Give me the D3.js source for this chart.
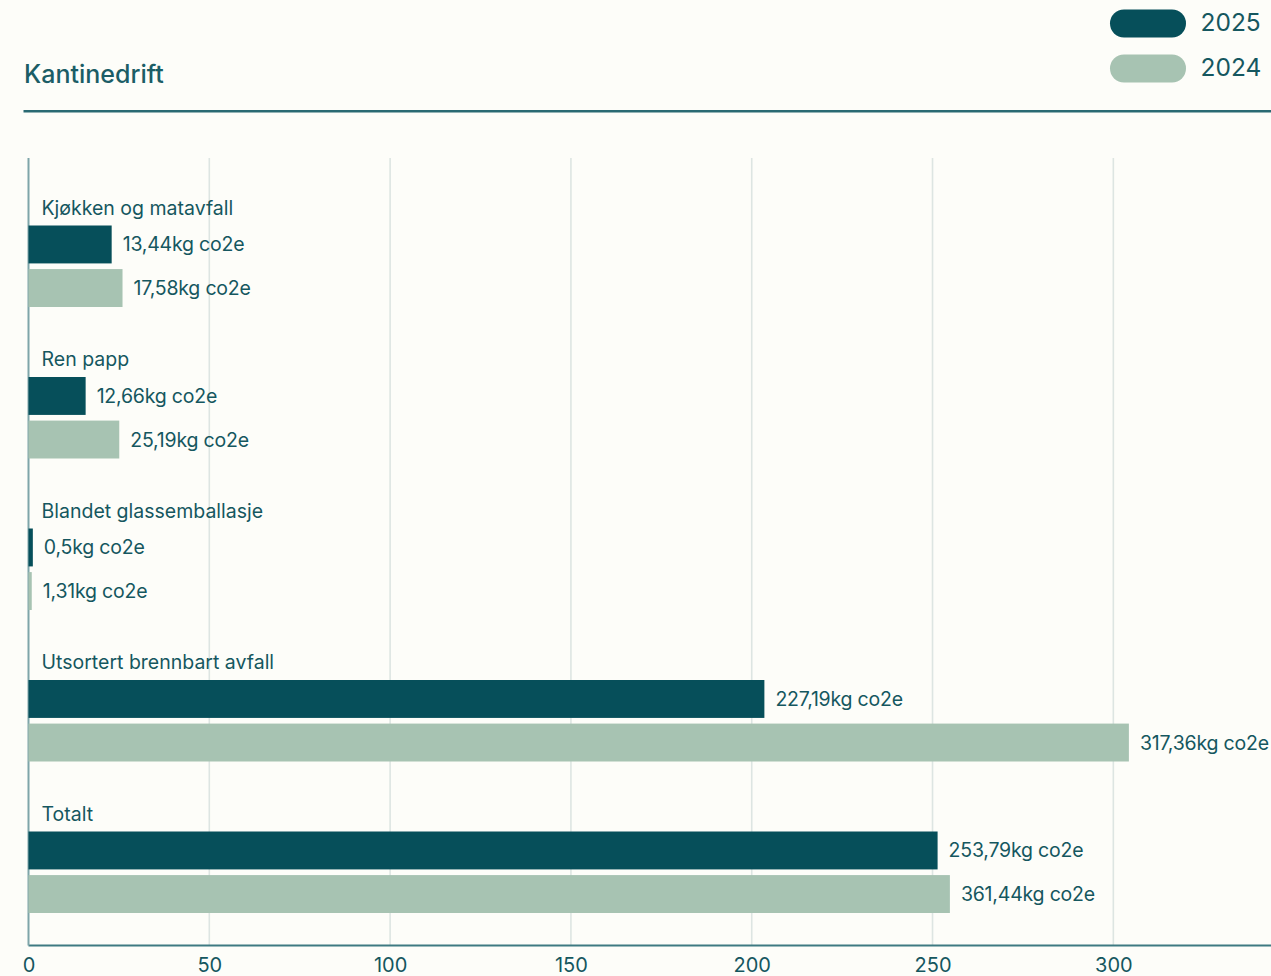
<!DOCTYPE html>
<html>
<head>
<meta charset="utf-8">
<script src="https://cdn.jsdelivr.net/npm/d3@7"></script>
<style>
  html, body { margin: 0; padding: 0; background: #fdfdf9; }
  svg { display: block; font-family: Inter, "Noto Sans", sans-serif; }
</style>
</head>
<body>
<svg id="chart" width="1271" height="976"></svg>
<script>
// ---- data ----
const title = "Kantinedrift";
const categories = ["Kjøkken og matavfall", "Ren papp", "Blandet glassemballasje", "Utsortert brennbart avfall", "Totalt"];
const seriesNames = ["2025", "2024"];
// bar lengths as drawn in the picture (axis units)
const bars2025 = [23.0, 15.8, 1.2, 203.5, 251.4];
const bars2024 = [26.0, 25.1, 0.9, 304.3, 254.8];
// values printed next to the bars (kg co2e)
const values2025 = [13.44, 12.66, 0.5, 227.19, 253.79];
const values2024 = [17.58, 25.19, 1.31, 317.36, 361.44];
const tickValues = [0, 50, 100, 150, 200, 250, 300];
const unit = "kg co2e";

// ---- styles ----
const C = {
  dark: "#064f5a",
  light: "#a7c3b2",
  text: "#15575f",
  title: "#1b5d66",
  rule: "#2a6a73",
  grid: "#dde5e2",
  yAxis: "#7ea5a9",
  xAxis: "#3e7a82"
};

const svg = d3.select("#chart");
const W = 1271, H = 976;

// title + rule
svg.append("text")
  .attr("x", 24).attr("y", 83.3)
  .attr("fill", C.title)
  .attr("font-size", 25).attr("font-weight", 500)
  .text(title);
svg.append("line")
  .attr("x1", 23.5).attr("x2", W)
  .attr("y1", 111.3).attr("y2", 111.3)
  .attr("stroke", C.rule).attr("stroke-width", 2.6);

// legend
const colors = d3.scaleOrdinal().domain(seriesNames).range([C.dark, C.light]);
const legY = d3.scaleBand().domain(seriesNames).range([9.5, 82.5]).paddingInner(0.378);
const leg = svg.append("g");
leg.selectAll("rect").data(seriesNames).join("rect")
  .attr("x", 1110).attr("y", d => legY(d))
  .attr("width", 76).attr("height", legY.bandwidth()).attr("rx", legY.bandwidth() / 2)
  .attr("fill", d => colors(d));
leg.selectAll("text").data(seriesNames).join("text")
  .attr("x", 1200.5).attr("y", d => legY(d) + legY.bandwidth() / 2 - 1)
  .attr("dy", "0.36em")
  .attr("font-size", 24.5).attr("fill", C.text)
  .text(d => d);

// scales
const plotTop = 158, plotBottom = 945.5;
const x = d3.scaleLinear().domain([0, 343.6]).range([28.5, W]);
const y = d3.scaleBand().domain(categories).range([225.5, 225.5 + 5 * 151.5]).padding(0);
const inner = d3.scaleBand().domain(seriesNames).range([0, 81.5]).paddingInner(0.13);

// gridlines
svg.append("g").selectAll("line").data(tickValues.filter(d => d > 0)).join("line")
  .attr("x1", d => x(d)).attr("x2", d => x(d))
  .attr("y1", plotTop).attr("y2", plotBottom)
  .attr("stroke", C.grid).attr("stroke-width", 1.6);

// x axis labels
const xAxis = svg.append("g")
  .attr("transform", `translate(0,${plotBottom})`)
  .call(d3.axisBottom(x).tickValues(tickValues).tickSize(0).tickPadding(12.5).tickFormat(d3.format("d")));
xAxis.select(".domain").remove();
xAxis.selectAll("text")
  .attr("font-family", "Inter, 'Noto Sans', sans-serif")
  .attr("font-size", 20).attr("fill", C.text);

// axis lines
svg.append("line")
  .attr("x1", x(0)).attr("x2", W)
  .attr("y1", plotBottom).attr("y2", plotBottom)
  .attr("stroke", C.xAxis).attr("stroke-width", 2);
svg.append("line")
  .attr("x1", x(0)).attr("x2", x(0))
  .attr("y1", plotTop).attr("y2", plotBottom)
  .attr("stroke", C.yAxis).attr("stroke-width", 2);

// rows
const fmt = v => String(v).replace(".", ",") + unit;
const rows = categories.map((c, i) => ({
  cat: c,
  items: [
    { s: "2025", bar: bars2025[i], val: values2025[i] },
    { s: "2024", bar: bars2024[i], val: values2024[i] }
  ]
}));

const g = svg.append("g").selectAll("g").data(rows).join("g")
  .attr("transform", d => `translate(0,${y(d.cat)})`);

g.append("text")
  .attr("x", 41.5).attr("y", -11)
  .attr("font-size", 19.5)
  .attr("fill", C.text)
  .text(d => d.cat);

g.selectAll("rect").data(d => d.items).join("rect")
  .attr("x", x(0))
  .attr("y", d => inner(d.s))
  .attr("width", d => x(d.bar) - x(0))
  .attr("height", inner.bandwidth())
  .attr("fill", d => colors(d.s));

g.selectAll("text.val").data(d => d.items).join("text")
  .attr("class", "val")
  .attr("x", d => x(d.bar) + 11)
  .attr("y", d => inner(d.s) + inner.bandwidth() / 2)
  .attr("dy", "0.36em")
  .attr("font-size", 19.5).attr("letter-spacing", "-0.2px")
  .attr("fill", C.text)
  .text(d => fmt(d.val));
</script>
</body>
</html>
